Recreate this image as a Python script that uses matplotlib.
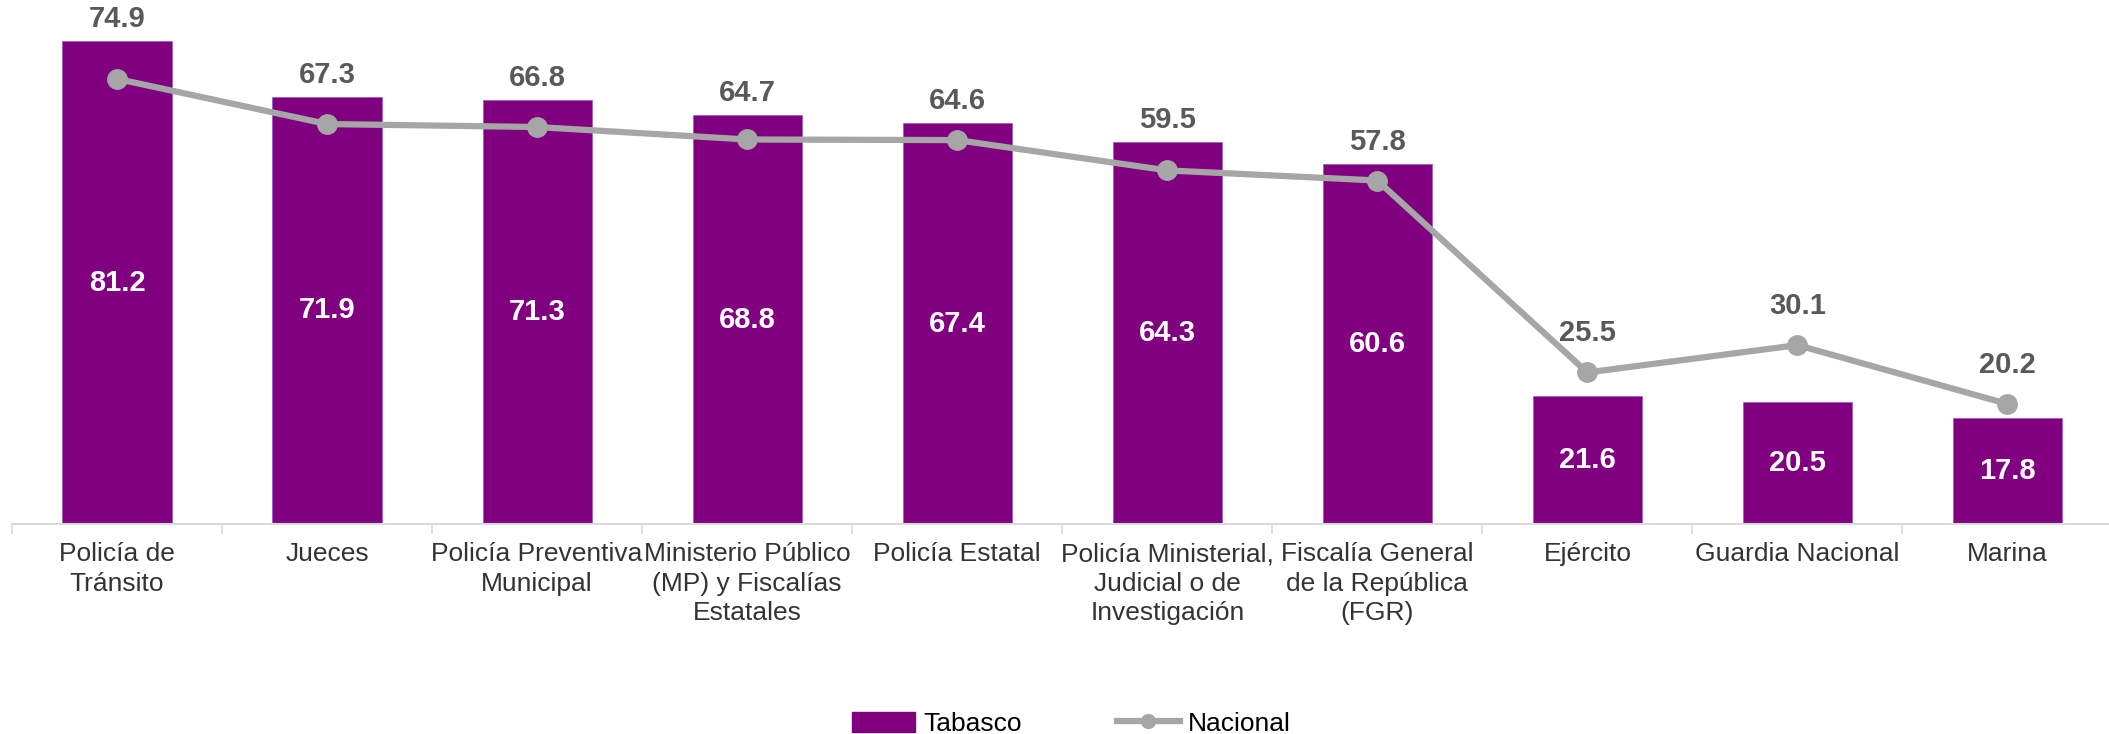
import matplotlib
matplotlib.use("Agg")
import matplotlib.pyplot as plt
import numpy as np
from matplotlib.patches import Patch
from matplotlib.lines import Line2D

# =========================================================
# Datos
# =========================================================
categorias = [
    "Policía de\nTránsito",
    "Jueces",
    "Policía Preventiva\nMunicipal",
    "Ministerio Público\n(MP) y Fiscalías\nEstatales",
    "Policía Estatal",
    "Policía Ministerial,\nJudicial o de\nInvestigación",
    "Fiscalía General\nde la República\n(FGR)",
    "Ejército",
    "Guardia Nacional",
    "Marina",
]
tabasco = [81.2, 71.9, 71.3, 68.8, 67.4, 64.3, 60.6, 21.6, 20.5, 17.8]
nacional = [74.9, 67.3, 66.8, 64.7, 64.6, 59.5, 57.8, 25.5, 30.1, 20.2]

# =========================================================
# Estilo
# =========================================================
plt.rcParams["font.family"] = ["Liberation Sans", "DejaVu Sans"]
COR_BARRA = "#800080"
COR_LINHA = "#A6A6A6"
COR_EIXO = "#D9D9D9"
COR_ROTULO = "#595959"

fig = plt.figure(figsize=(21.09, 7.34), dpi=100)
ax = fig.add_axes([12 / 2109, 0.2861, 2100.5 / 2109, 0.7125])

x = np.arange(len(categorias))
ax.bar(x, tabasco, width=0.52, color=COR_BARRA, edgecolor="#9A5FC8",
       linewidth=0.6, zorder=2)
ax.plot(x, nacional, color=COR_LINHA, linewidth=4.5, marker="o",
        markersize=14, zorder=3)

ax.set_xlim(-0.5, len(categorias) - 0.5)
ax.set_ylim(0, 88)

# rótulos dentro das barras
for xi, v in zip(x, tabasco):
    ax.text(xi, v / 2, f"{v:.1f}", ha="center", va="center", color="white",
            fontsize=21, fontweight="bold", zorder=4)

# rótulos da série nacional
for xi, t, n in zip(x, tabasco, nacional):
    if t >= n:
        base, off = t, 22
    else:
        base, off = n, 39
    ax.annotate(f"{n:.1f}", (xi, base), xytext=(0, off * 0.72),
                textcoords="offset points", ha="center", va="center",
                color=COR_ROTULO, fontsize=21, fontweight="bold", zorder=4)

# eixos
for s in ["top", "right", "left"]:
    ax.spines[s].set_visible(False)
ax.spines["bottom"].set_color(COR_EIXO)
ax.spines["bottom"].set_linewidth(1.5)
ax.set_yticks([])
ax.set_xticks(x)
ax.set_xticklabels(categorias, fontsize=19, color="#333333", linespacing=1.3)
ax.tick_params(axis="x", which="major", length=0, pad=13)
ax.set_xticks(np.arange(-0.5, len(categorias), 1.0), minor=True)
ax.tick_params(axis="x", which="minor", length=7, width=1.2, color=COR_EIXO)

# legenda
handles = [
    Patch(facecolor=COR_BARRA, edgecolor=COR_BARRA, label="Tabasco"),
    Line2D([0], [0], color=COR_LINHA, linewidth=4.5, marker="o",
           markersize=10, label="Nacional"),
]
fig.legend(handles=handles, loc="center", bbox_to_anchor=(0.508, 0.014),
           ncol=2, frameon=False, fontsize=19, handlelength=2.4,
           handleheight=0.8, handletextpad=0.3, columnspacing=3.6)

fig.savefig("out.png", dpi=100)
plt.close(fig)
